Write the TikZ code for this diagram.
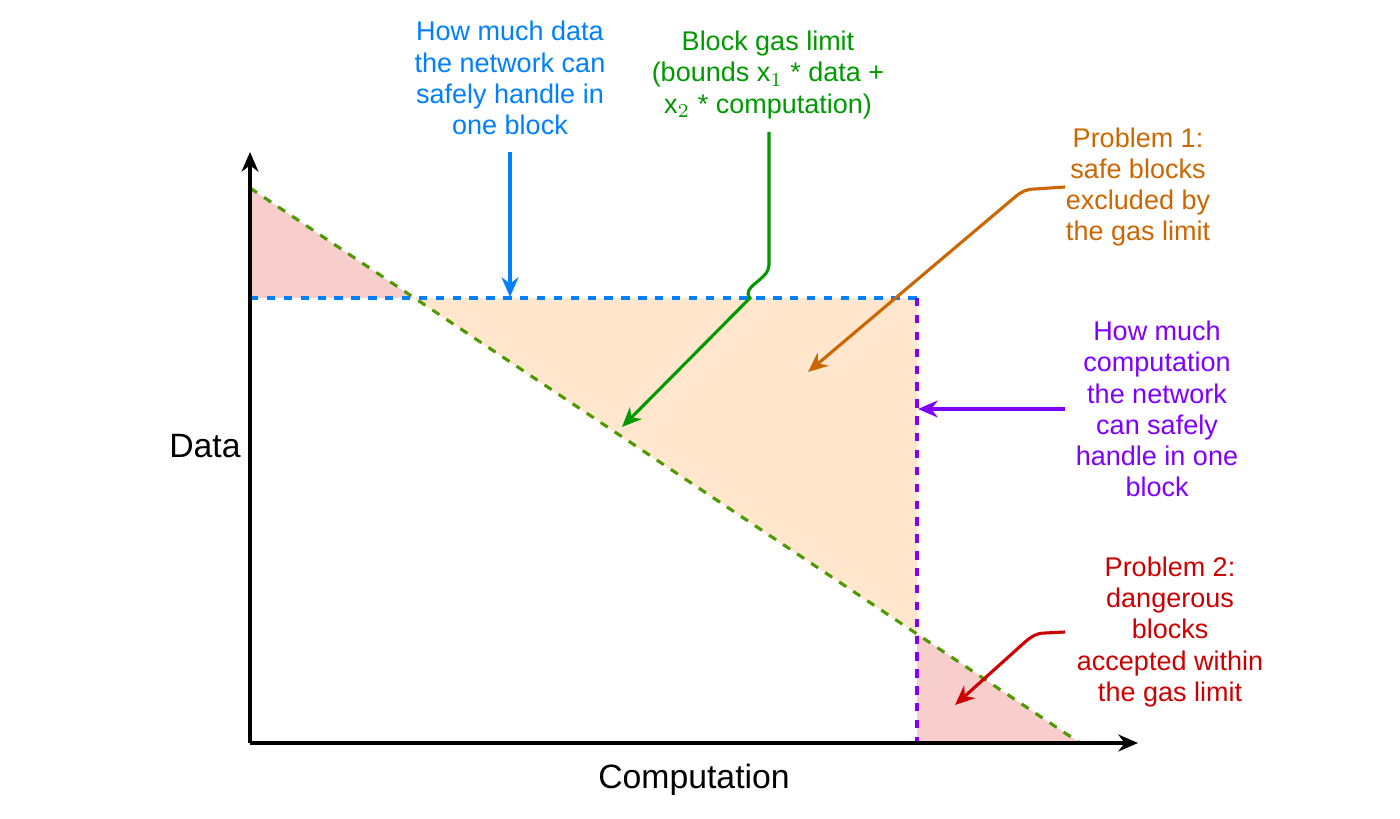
\documentclass[tikz,border=0pt]{standalone}
\usepackage{fontspec}
\setmainfont{Liberation Sans}
\usetikzlibrary{arrows.meta}
\definecolor{cblue}{HTML}{007FFF}
\definecolor{cgreen}{HTML}{009900}
\definecolor{corange}{HTML}{CC6600}
\definecolor{cpurple}{HTML}{7F00FF}
\definecolor{cred}{HTML}{CC0000}
\definecolor{cline}{HTML}{4D9900}
\definecolor{cpink}{HTML}{F8CECC}
\definecolor{cpeach}{HTML}{FFE6CC}
\begin{document}
\begin{tikzpicture}[x=0.0125cm,y=-0.0125cm,
  note/.style={align=center,font=\fontsize{9.6}{11.1}\selectfont},
  arr/.style={line width=1.1pt,-{Stealth[length=7pt,width=6pt]}}]
\useasboundingbox (0,0) rectangle (1400,818);
% regions
\fill[cpink] (250,188) -- (250,298) -- (414,298) -- cycle;
\fill[cpeach] (414,298) -- (917,298) -- (917,634) -- cycle;
\fill[cpink] (917,634) -- (917,743) -- (1080,743) -- cycle;
% limits
\draw[cblue,dashed,line width=1.1pt] (250,298) -- (917,298);
\draw[cpurple,dashed,line width=1.1pt] (917,298) -- (917,743);
\draw[cline,dashed,line width=1.1pt] (250,188) -- (1080,743);
% axes
\coordinate (O) at (250,743);
\draw[arr,black] (O) -- (250,152);
\draw[arr,black] (O) -- (1138,743);
\node[note,font=\fontsize{12}{14}\selectfont] (data) at (205,446) {Data};
\node[note,font=\fontsize{12}{14}\selectfont] (comp) at (694,780) {Computation};
% notes
\node[note,text=cblue] (safe) at (510,78) {How much data\\the network can\\safely handle in\\one block};
\node[note,text=cgreen] (gas) at (768,75) {Block gas limit\\(bounds x$_1$ * data +\\x$_2$ * computation)};
\node[note,text=corange] (prob1) at (1138,187) {Problem 1:\\safe blocks\\excluded by\\the gas limit};
\node[note,text=cpurple] (cpu) at (1157,409) {How much\\computation\\the network\\can safely\\handle in one\\block};
\node[note,text=cred] (prob2) at (1170,632) {Problem 2:\\dangerous\\blocks\\accepted within\\the gas limit};
% pointers
\draw[arr,cblue] (safe.south |- 0,152) -- (510,297);
\draw[arr,cgreen] (769,132) -- (769,265) to[out=-90,in=130] (750,298) -- (622,427);
\draw[arr,corange] (1065,187) -- (1035,189) to[out=180,in=40] (1015,197) -- (808,372);
\draw[arr,cpurple] (1065,409) -- (918,409);
\draw[arr,cred] (1065,632) -- (1045,633) to[out=180,in=40] (1025,642) -- (955,705);
\end{tikzpicture}
\end{document}
